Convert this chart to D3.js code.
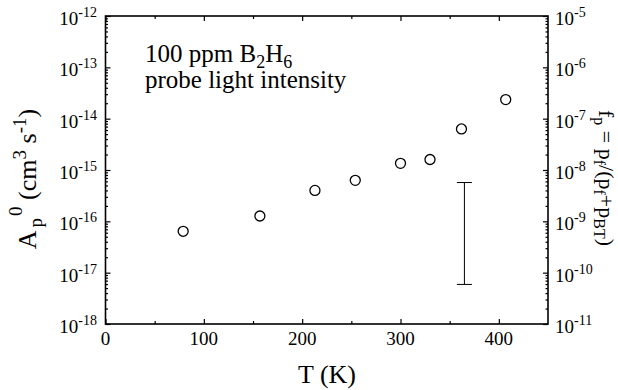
<!DOCTYPE html>
<html lang="en">
  <head>
    <meta charset="utf-8">
    <title>Ap0 vs T</title>
    <script src="https://d3js.org/d3.v7.min.js"></script>
    <style>
      body { margin: 0; background: #fff; }
      svg, svg text { font-family: "Liberation Serif", "Times New Roman", Times, "DejaVu Serif", serif; }
    </style>
  </head>
  <body>
    <script>
    // data
    const temps = [79, 157, 213, 254, 300, 330, 362, 407]
    const apValues = [6.4e-17, 1.27e-16, 4.0e-16, 6.3e-16, 1.35e-15, 1.6e-15, 6.3e-15, 2.35e-14]
    const errT = [365]
    const errLow = [5.9e-18]
    const errHigh = [5.7e-16]

    const xTicks = [0, 100, 200, 300, 400]
    const xMinor = [50, 150, 250, 350]
    const leftExps = [-18, -17, -16, -15, -14, -13, -12]
    const rightExps = [-11, -10, -9, -8, -7, -6, -5]

    const m = { left: 105.5, right: 548, top: 16, bottom: 324 }
    const serif = '"Liberation Serif", "Times New Roman", Times, serif'

    const svg = d3.select('body').append('svg')
      .attr('width', 618)
      .attr('height', 390)
      .attr('font-family', serif)

    const x = d3.scaleLinear().domain([0, 450]).range([m.left, m.right])
    const yL = d3.scaleLog().domain([1e-18, 1e-12]).range([m.bottom, m.top])
    const yR = d3.scaleLog().domain([1e-11, 1e-5]).range([m.bottom, m.top])

    // minor ticks for log axes (2..9 in each decade)
    function minorLog(exps) {
      let out = []
      for (let i = 0; i < exps.length - 1; i++) {
        for (let k = 2; k <= 9; k++) out.push(k * Math.pow(10, exps[i]))
      }
      return out
    }

    function drawAxis(axis, tx, ty) {
      const g = svg.append('g')
        .attr('transform', `translate(${tx},${ty})`)
        .call(axis)
      g.select('.domain').remove()
      g.selectAll('text').remove()
      g.selectAll('line').attr('stroke', '#000').attr('stroke-width', 1.2)
      return g
    }

    // ticks, all pointing inward
    drawAxis(d3.axisBottom(x).tickValues(xTicks).tickSize(-5), 0, m.bottom)
    drawAxis(d3.axisBottom(x).tickValues(xMinor).tickSize(-3), 0, m.bottom)
    drawAxis(d3.axisTop(x).tickValues(xTicks).tickSize(-5), 0, m.top)
    drawAxis(d3.axisTop(x).tickValues(xMinor).tickSize(-3), 0, m.top)
    drawAxis(d3.axisLeft(yL).tickValues(leftExps.map(e => Math.pow(10, e))).tickSize(-5), m.left, 0)
    drawAxis(d3.axisLeft(yL).tickValues(minorLog(leftExps)).tickSize(-2.5), m.left, 0)
    drawAxis(d3.axisRight(yR).tickValues(rightExps.map(e => Math.pow(10, e))).tickSize(-5), m.right, 0)
    drawAxis(d3.axisRight(yR).tickValues(minorLog(rightExps)).tickSize(-2.5), m.right, 0)

    // frame
    svg.append('rect')
      .attr('x', m.left).attr('y', m.top)
      .attr('width', m.right - m.left).attr('height', m.bottom - m.top)
      .attr('fill', 'none').attr('stroke', '#000').attr('stroke-width', 1.6)

    // tick labels
    svg.selectAll('.xlab').data(xTicks).enter().append('text')
      .attr('x', d => x(d)).attr('y', m.bottom + 21)
      .attr('text-anchor', 'middle').style('font-size', '19px')
      .style('font-family', serif)
      .text(d => d)

    function powLabel(exps, scale, xpos, anchor) {
      const t = svg.selectAll(null).data(exps).enter().append('text')
        .attr('x', xpos).attr('y', d => scale(Math.pow(10, d)) + 9)
        .attr('text-anchor', anchor).style('font-size', '19px')
        .style('font-family', serif)
      t.append('tspan').text('10')
      t.append('tspan').attr('dy', -8).style('font-size', '14px').text(d => d)
    }
    powLabel(leftExps, yL, 97, 'end')
    powLabel(rightExps, yR, 555, 'start')

    // points
    svg.selectAll('.pt').data(temps).enter().append('circle')
      .attr('cx', d => x(d))
      .attr('cy', (d, i) => yL(apValues[i]))
      .attr('r', 5)
      .attr('fill', 'none').attr('stroke', '#000').attr('stroke-width', 1.3)

    // error bar
    const eb = svg.selectAll('.eb').data(errT).enter().append('g')
    eb.append('line')
      .attr('x1', d => x(d)).attr('x2', d => x(d))
      .attr('y1', (d, i) => yL(errLow[i])).attr('y2', (d, i) => yL(errHigh[i]))
      .attr('stroke', '#000').attr('stroke-width', 1)
    eb.append('line')
      .attr('x1', d => x(d) - 7.5).attr('x2', d => x(d) + 7.5)
      .attr('y1', (d, i) => yL(errLow[i])).attr('y2', (d, i) => yL(errLow[i]))
      .attr('stroke', '#000').attr('stroke-width', 1)
    eb.append('line')
      .attr('x1', d => x(d) - 7.5).attr('x2', d => x(d) + 7.5)
      .attr('y1', (d, i) => yL(errHigh[i])).attr('y2', (d, i) => yL(errHigh[i]))
      .attr('stroke', '#000').attr('stroke-width', 1)

    // annotation
    const ann = svg.append('text').attr('x', 145).attr('y', 62)
      .style('font-size', '25px').style('font-family', serif)
    ann.append('tspan').text('100 ppm B')
    ann.append('tspan').attr('dy', 6).style('font-size', '18px').text('2')
    ann.append('tspan').attr('dy', -6).text('H')
    ann.append('tspan').attr('dy', 6).style('font-size', '18px').text('6')
    svg.append('text').attr('x', 145).attr('y', 88)
      .style('font-size', '25px').style('font-family', serif)
      .text('probe light intensity')

    // x axis label
    svg.append('text').attr('x', 327).attr('y', 383)
      .attr('text-anchor', 'middle').style('font-size', '26px')
      .style('font-family', serif).text('T (K)')

    // left axis label
    const yl = svg.append('text')
      .attr('transform', 'translate(36,179) rotate(-90)')
      .attr('text-anchor', 'middle').style('font-size', '26px')
      .style('font-family', serif)
    yl.append('tspan').text('A')
    yl.append('tspan').attr('dx', 3).attr('dy', 6).style('font-size', '19px').text('p')
    yl.append('tspan').attr('dx', 2).attr('dy', -20).style('font-size', '19px').text('0')
    yl.append('tspan').attr('dy', 14).text(' (cm')
    yl.append('tspan').attr('dy', -10).style('font-size', '19px').text('3')
    yl.append('tspan').attr('dy', 10).text(' s')
    yl.append('tspan').attr('dy', -10).style('font-size', '19px').text('-1')
    yl.append('tspan').attr('dy', 10).text(')')

    // right axis label
    const yr = svg.append('text')
      .attr('transform', 'translate(599,178) rotate(90)')
      .attr('text-anchor', 'middle').style('font-size', '22px')
      .style('font-family', serif)
    const parts = [['f', 0], ['p', 1], [' = p', 0], ['f', 1], ['/(p', 0], ['f', 1], ['+p', 0], ['BT', 1], [')', 0]]
    let prev = 0
    parts.forEach(p => {
      const shift = p[1] ? 5 : 0
      yr.append('tspan').attr('dy', shift - prev)
        .style('font-size', p[1] ? '16px' : '22px').text(p[0])
      prev = shift
    })
    </script>
  </body>
</html>
